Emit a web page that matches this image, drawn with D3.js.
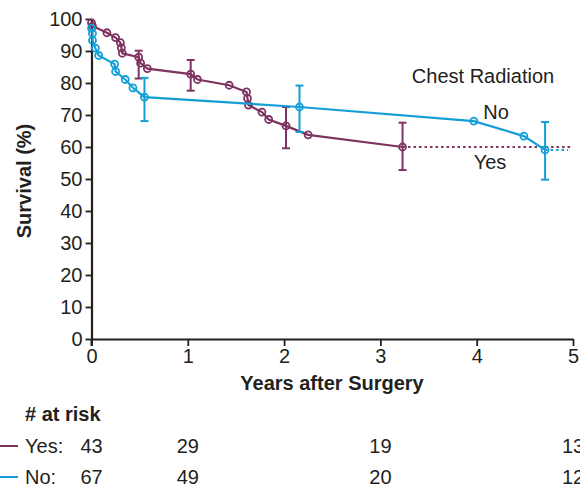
<!DOCTYPE html>
<html>
<head>
<meta charset="utf-8">
<script src="https://cdn.jsdelivr.net/npm/d3@7"></script>
<style>
  html, body { margin: 0; padding: 0; background: #fff; }
  svg { display: block; font-family: "Liberation Sans", Arial, sans-serif; }
</style>
</head>
<body>
<svg id="chart" width="580" height="489"></svg>
<script>
// Kaplan–Meier style survival estimates by chest radiation group
const yesTimes = [0.0, 0.01, 0.16, 0.25, 0.30, 0.31, 0.32, 0.49, 0.51, 0.58, 1.03, 1.10, 1.43, 1.61, 1.62, 1.63, 1.77, 1.84, 2.02, 2.25, 3.23];
const yesSurv  = [98.8, 97.8, 95.7, 94.2, 92.6, 91.0, 89.3, 88.1, 86.2, 84.5, 82.8, 81.1, 79.3, 77.2, 75.2, 73.1, 70.9, 68.6, 66.6, 63.8, 60.0];
const noTimes  = [0.0, 0.01, 0.01, 0.04, 0.075, 0.24, 0.25, 0.35, 0.43, 0.55, 2.16, 3.97, 4.49, 4.71];
const noSurv   = [97.1, 95.5, 93.3, 90.9, 88.6, 85.9, 83.6, 81.1, 78.5, 75.6, 72.5, 68.1, 63.4, 59.1];

// Confidence bars: time, estimate, lower, upper
const yesErrT  = [0.49, 1.03, 2.02, 3.23];
const yesErrV  = [88.1, 82.8, 66.6, 60.0];
const yesErrLo = [81.4, 77.6, 59.6, 52.8];
const yesErrHi = [90.1, 87.2, 72.5, 67.6];
const noErrT   = [0.55, 2.16, 4.71];
const noErrV   = [75.6, 72.5, 59.1];
const noErrLo  = [68.1, 64.7, 49.8];
const noErrHi  = [81.6, 79.2, 67.8];

// Censored tails continue as dotted lines
const yesTailEnd = 5.0;
const noTailEnd = 4.95;

const xTicks = [0, 1, 2, 3, 4, 5];
const yTicks = [0, 10, 20, 30, 40, 50, 60, 70, 80, 90, 100];
const riskTimes = [0, 1, 3, 5];
const riskYes = [43, 29, 19, 13];
const riskNo  = [67, 49, 20, 12];

const purple = "#7d3461";
const blue = "#139fd6";
const ink = "#231f20";
const fs = 20;

const svg = d3.select("#chart");
const x = d3.scaleLinear().domain([0, 5]).range([91.5, 573]);
const y = d3.scaleLinear().domain([0, 100]).range([339, 19]);

// Axes
const yAxis = svg.append("g")
  .attr("transform", `translate(${x(0)},0)`)
  .call(d3.axisLeft(y).tickValues(yTicks).tickFormat(d3.format("d")).tickSize(6).tickSizeOuter(0).tickPadding(3));
const xAxis = svg.append("g")
  .attr("transform", `translate(0,${y(0)})`)
  .call(d3.axisBottom(x).tickValues(xTicks).tickFormat(d3.format("d")).tickSize(7).tickSizeOuter(0).tickPadding(3));
[yAxis, xAxis].forEach(g => {
  g.select(".domain").attr("stroke", ink).attr("stroke-width", 2.2);
  g.selectAll(".tick line").attr("stroke", ink).attr("stroke-width", 1.8);
  g.selectAll(".tick text").attr("fill", ink)
    .style("font-family", "'Liberation Sans', Arial, sans-serif").style("font-size", fs + "px");
});
// y-axis line reaches a little below the x axis
svg.append("line").attr("x1", x(0)).attr("x2", x(0)).attr("y1", y(0)).attr("y2", y(0) + 7)
  .attr("stroke", ink).attr("stroke-width", 2);

// Axis titles
svg.append("text").attr("x", 332).attr("y", 390).attr("text-anchor", "middle")
  .attr("font-weight", "bold").attr("font-size", fs).attr("fill", ink).text("Years after Surgery");
svg.append("text").attr("transform", `translate(31,181) rotate(-90)`).attr("text-anchor", "middle")
  .attr("font-weight", "bold").attr("font-size", fs).attr("fill", ink).text("Survival (%)");

function drawSeries(times, surv, color, tailEnd, eT, eV, eLo, eHi) {
  const pts = times.map((t, i) => [t, surv[i]]);
  const line = d3.line().x(d => x(d[0])).y(d => y(d[1]));
  const last = pts[pts.length - 1];
  svg.append("path").datum([last, [tailEnd, last[1]]]).attr("d", line)
    .attr("fill", "none").attr("stroke", color).attr("stroke-width", 2).attr("stroke-dasharray", "2.5,3");
  svg.append("path").datum(pts).attr("d", line)
    .attr("fill", "none").attr("stroke", color).attr("stroke-width", 2.2);
  const eb = svg.append("g").attr("stroke", color).attr("stroke-width", 2);
  eT.forEach((t, i) => {
    const cx = x(t);
    eb.append("line").attr("x1", cx).attr("x2", cx).attr("y1", y(eLo[i])).attr("y2", y(eHi[i]));
    eb.append("line").attr("x1", cx - 4).attr("x2", cx + 4).attr("y1", y(eLo[i])).attr("y2", y(eLo[i]));
    eb.append("line").attr("x1", cx - 4).attr("x2", cx + 4).attr("y1", y(eHi[i])).attr("y2", y(eHi[i]));
  });
  svg.append("g").selectAll("circle").data(pts).join("circle")
    .attr("cx", d => x(d[0])).attr("cy", d => y(d[1])).attr("r", 3.5)
    .attr("fill", "none").attr("stroke", color).attr("stroke-width", 1.8);
}

drawSeries(yesTimes, yesSurv, purple, yesTailEnd, yesErrT, yesErrV, yesErrLo, yesErrHi);
drawSeries(noTimes, noSurv, blue, noTailEnd, noErrT, noErrV, noErrLo, noErrHi);

// In-plot labels
svg.append("text").attr("x", 483).attr("y", 83).attr("text-anchor", "middle")
  .attr("font-size", fs).attr("fill", ink).text("Chest Radiation");
svg.append("text").attr("x", 496).attr("y", 119).attr("text-anchor", "middle")
  .attr("font-size", fs).attr("fill", ink).text("No");
svg.append("text").attr("x", 490).attr("y", 169).attr("text-anchor", "middle")
  .attr("font-size", fs).attr("fill", ink).text("Yes");

// Number at risk table
svg.append("text").attr("x", 25).attr("y", 421).attr("font-weight", "bold")
  .attr("font-size", fs).attr("fill", ink).text("# at risk");
const rows = [
  { label: "Yes:", color: purple, vals: riskYes, yy: 453 },
  { label: "No:", color: blue, vals: riskNo, yy: 484 }
];
rows.forEach(r => {
  svg.append("line").attr("x1", 0).attr("x2", 18).attr("y1", r.yy - 7).attr("y2", r.yy - 7)
    .attr("stroke", r.color).attr("stroke-width", 2);
  svg.append("text").attr("x", 25).attr("y", r.yy).attr("font-size", fs).attr("fill", ink).text(r.label);
  svg.append("g").selectAll("text").data(r.vals).join("text")
    .attr("x", (d, i) => x(riskTimes[i])).attr("y", r.yy).attr("text-anchor", "middle")
    .attr("font-size", fs).attr("fill", ink).text(d => d);
});
</script>
</body>
</html>
